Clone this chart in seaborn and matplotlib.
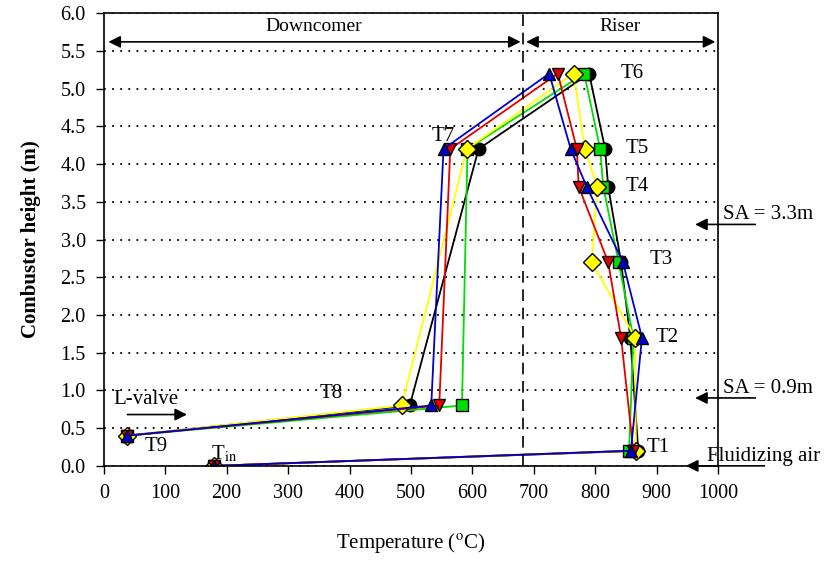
import pandas as pd
import numpy as np
import matplotlib
matplotlib.use('Agg')
import matplotlib.pyplot as plt
import seaborn as sns

# measuring points along the loop: Tin, T1..T6 (riser), T7..T9 (downcomer)
points = ['Tin', 'T1', 'T2', 'T3', 'T4', 'T5', 'T6', 'T7', 'T8', 'T9']
heights = [0.0, 0.2, 1.7, 2.7, 3.7, 4.2, 5.2, 4.2, 0.8, 0.4]

# temperatures (oC) for each run
temp_black = [180, 870, 857, 842, 821, 816, 790, 610, 498, 38]
temp_green = [180, 855, 862, 838, 813, 808, 782, 592, 583, 38]
temp_yellow = [180, 866, 865, 794, 803, 783, 765, 591, 485, 38]
temp_red = [180, 862, 842, 821, 773, 770, 739, 564, 546, 38]
temp_blue = [180, 858, 876, 845, 786, 760, 725, 553, 533, 38]

runs = ['Run 5', 'Run 4', 'Run 3', 'Run 2', 'Run 1']
run_temps = [temp_black, temp_green, temp_yellow, temp_red, temp_blue]
colors = ['black', '#00dd00', '#ffff00', '#e00000', '#0000cc']
markers = ['o', 's', 'D', 'v', '^']

rows = []
for run, temps in zip(runs, run_temps):
    for i, (p, h, t) in enumerate(zip(points, heights, temps)):
        rows.append({'run': run, 'order': i, 'point': p, 'height': h, 'temp': t})
df = pd.DataFrame(rows)

sns.set_style('ticks')
plt.rcParams['font.family'] = ['Liberation Serif', 'DejaVu Serif']
plt.rcParams['mathtext.fontset'] = 'stix'
plt.rcParams['text.color'] = 'black'
plt.rcParams['axes.labelcolor'] = 'black'

fig = plt.figure(figsize=(8.37, 5.73), dpi=100)
ax = fig.add_axes([0.124, 0.187, 0.734, 0.790])

ax.set_yticks(np.arange(0, 6.01, 0.5))
ax.yaxis.grid(True, linestyle=(0, (1.0, 3.5)), color='black', linewidth=1.3)
ax.set_axisbelow(True)

sns.lineplot(data=df, x='temp', y='height', hue='run', style='run',
             hue_order=runs, style_order=runs, palette=colors,
             markers=dict(zip(runs, markers)), dashes=False, sort=False,
             estimator=None, units='run', linewidth=1.3, markersize=9,
             markeredgecolor='black', markeredgewidth=1.0, legend=False, ax=ax)

ax.set_xlim(0, 1000)
ax.set_ylim(0, 6)
ax.set_xticks(np.arange(0, 1001, 100))
ax.set_yticklabels([f'{v:.1f}' for v in np.arange(0, 6.01, 0.5)])
ax.tick_params(direction='out', length=6, width=1, labelsize=14.5, colors='black', pad=7)
for lbl in ax.get_xticklabels() + ax.get_yticklabels():
    lbl.set_fontfamily('Liberation Serif')
for s in ax.spines.values():
    s.set_visible(True)
    s.set_color('black')
    s.set_linewidth(1.2)

ax.set_xlabel(r'Temperature ($^{\rm o}$C)', fontsize=15, labelpad=20)
ax.set_ylabel('Combustor height (m)', fontsize=15, fontweight='bold', labelpad=14)

# downcomer / riser division
ax.axvline(683, color='black', linestyle=(0, (7, 4)), linewidth=1.2)
ax.annotate('', xy=(3, 5.62), xytext=(683, 5.62),
            arrowprops=dict(arrowstyle='<|-|>', color='black', lw=1.2, mutation_scale=18))
ax.annotate('', xy=(683, 5.62), xytext=(1000, 5.62),
            arrowprops=dict(arrowstyle='<|-|>', color='black', lw=1.2, mutation_scale=18))
ax.text(341, 5.82, 'Downcomer', ha='center', va='center', fontsize=14)
ax.text(841, 5.82, 'Riser', ha='center', va='center', fontsize=14)

# point labels
labels = [('T6', 842, 5.2), ('T5', 850, 4.2), ('T4', 850, 3.7), ('T3', 888, 2.74),
          ('T2', 898, 1.7), ('T1', 884, 0.24), ('T7', 534, 4.36), ('T8', 352, 0.96),
          ('T9', 66, 0.26)]
for txt, x, y in labels:
    ax.text(x, y, txt, ha='left', va='center', fontsize=15)
ax.text(174, 0.16, r'T$_{\rm in}$', ha='left', va='center', fontsize=15)

ax.text(15, 0.88, 'L-valve', ha='left', va='center', fontsize=15)
ax.annotate('', xy=(140, 0.68), xytext=(34, 0.68),
            arrowprops=dict(arrowstyle='-|>', color='black', lw=1.2, mutation_scale=18))

# side annotations
side = [('SA = 3.3m', 3.2), ('SA = 0.9m', 0.9)]
for txt, y in side:
    ax.annotate('', xy=(958, y), xytext=(1065, y), annotation_clip=False,
                arrowprops=dict(arrowstyle='-|>', color='black', lw=1.2, mutation_scale=18))
    ax.text(1008, y + 0.13, txt, ha='left', va='center', fontsize=15, clip_on=False)
ax.annotate('', xy=(943, 0.0), xytext=(1080, 0.0), annotation_clip=False,
            arrowprops=dict(arrowstyle='-|>', color='black', lw=1.2, mutation_scale=18))
ax.text(982, 0.12, 'Fluidizing air', ha='left', va='center', fontsize=15, clip_on=False)

fig.savefig('out.png', dpi=100)
